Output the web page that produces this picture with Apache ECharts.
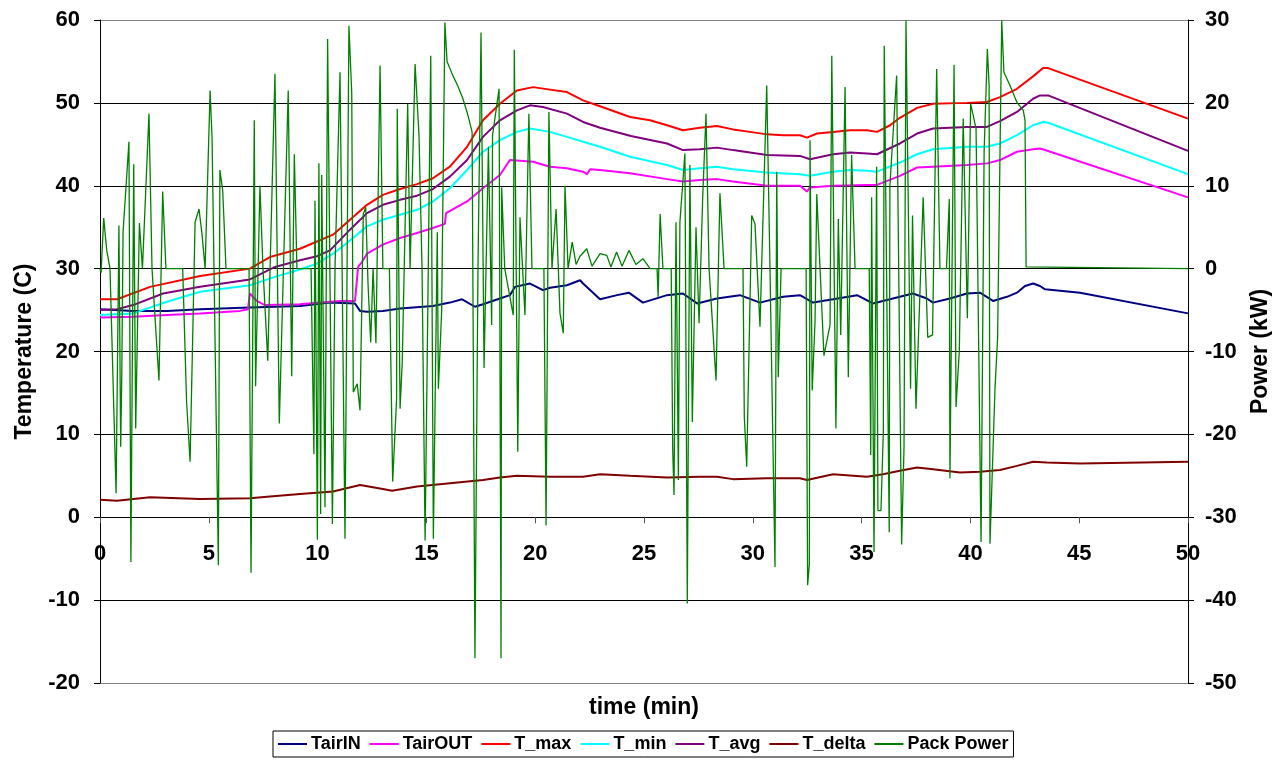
<!DOCTYPE html>
<html>
<head>
<meta charset="utf-8">
<script src="https://cdn.jsdelivr.net/npm/echarts@6/dist/echarts.min.js"></script>
<style>
html,body{margin:0;padding:0;background:#fff;}
#chart{width:1274px;height:762px;}
</style>
</head>
<body>
<div id="chart"></div>
<script>
// ---- data (time in min, value) ----
const tairIN = [[0,25.1],[1.52,24.9],[3.08,24.9],[4.6,25.1],[6.89,25.3],[9.19,25.5],[10.57,25.9],[11.72,25.8],[11.95,24.9],[12.27,24.8],[13.0,24.9],[13.79,25.2],[15.3,25.5],[16.08,25.9],[16.64,26.3],[17.23,25.4],[17.6,25.7],[18.38,26.4],[18.84,26.8],[19.07,27.8],[19.76,28.2],[20.36,27.4],[20.68,27.7],[21.46,28.0],[22.06,28.6],[22.2,28.2],[22.98,26.3],[23.76,26.8],[24.3,27.1],[24.95,25.9],[26.06,26.8],[26.79,27.0],[27.44,25.8],[28.35,26.4],[29.41,26.8],[30.33,25.9],[31.39,26.6],[32.17,26.8],[32.77,25.9],[33.69,26.3],[34.79,26.8],[35.52,25.8],[36.76,26.6],[37.36,27.0],[38.0,26.4],[38.28,25.9],[39.06,26.4],[39.84,27.0],[40.44,27.1],[41.04,26.1],[41.68,26.6],[42.14,27.1],[42.51,27.9],[42.88,28.2],[43.2,27.9],[43.43,27.5],[45.04,27.1],[50,24.6]];
const tairOUT = [[0,24.1],[1.52,24.2],[3.08,24.4],[4.6,24.6],[6.43,24.9],[6.8,25.1],[6.89,27.0],[7.2,26.1],[7.58,25.6],[9.19,25.7],[10.11,25.9],[11.03,26.1],[11.72,26.1],[11.86,30.2],[12.04,30.8],[12.27,31.8],[13.0,32.9],[13.79,33.7],[14.57,34.3],[15.3,34.9],[15.85,35.4],[15.9,36.7],[16.87,38.1],[17.6,39.7],[18.38,41.3],[18.84,43.1],[19.9,42.9],[20.68,42.3],[21.46,42.1],[22.2,41.7],[22.38,41.4],[22.52,42.0],[22.98,41.9],[24.36,41.5],[26.06,40.8],[26.79,40.5],[27.57,40.7],[28.35,40.8],[29.09,40.5],[30.65,40.0],[32.17,40.0],[32.49,39.3],[32.63,39.8],[33.69,40.0],[35.25,40.1],[35.71,40.1],[36.76,41.2],[37.55,42.2],[38.28,42.3],[39.84,42.5],[40.76,42.7],[41.36,43.1],[42.14,44.1],[42.88,44.4],[43.2,44.5],[43.57,44.2],[50,38.6]];
const tMax = [[0,26.3],[0.78,26.3],[2.3,27.8],[4.6,29.1],[6.89,30.0],[7.81,31.4],[9.19,32.4],[10.71,34.1],[11.49,35.9],[12.27,37.7],[13.0,38.9],[13.79,39.6],[14.57,40.2],[15.3,40.9],[16.08,42.3],[16.87,44.7],[17.6,47.9],[18.38,49.9],[19.16,51.5],[19.9,51.9],[20.68,51.6],[21.46,51.3],[22.2,50.3],[22.98,49.6],[24.36,48.3],[25.28,47.9],[26.06,47.3],[26.79,46.7],[27.57,47.0],[28.35,47.2],[29.09,46.8],[29.87,46.5],[30.65,46.2],[31.39,46.1],[32.17,46.1],[32.49,45.8],[32.95,46.3],[33.69,46.5],[34.47,46.7],[35.25,46.7],[35.71,46.5],[36.31,47.3],[36.76,48.2],[37.55,49.4],[38.28,49.9],[39.84,50.0],[40.76,50.1],[41.36,50.7],[42.14,51.7],[42.88,53.2],[43.34,54.2],[43.57,54.2],[50,48.1]];
const tMin = [[0,24.4],[1.52,24.6],[3.08,26.0],[4.6,27.2],[6.89,28.0],[8.04,29.0],[9.19,29.9],[9.97,30.6],[10.71,31.8],[11.49,33.4],[12.27,35.1],[13.0,35.9],[13.79,36.5],[14.57,37.1],[15.3,38.1],[16.08,39.7],[16.87,41.9],[17.6,44.1],[18.38,45.5],[19.16,46.5],[19.76,46.9],[20.68,46.5],[21.46,45.9],[22.2,45.3],[22.98,44.7],[24.36,43.5],[26.06,42.5],[26.79,41.9],[27.57,42.1],[28.35,42.3],[29.09,42.0],[30.65,41.6],[32.17,41.4],[32.63,41.2],[33.69,41.7],[34.47,41.9],[35.25,41.8],[35.71,41.7],[36.76,42.8],[37.55,43.8],[38.28,44.4],[39.84,44.7],[40.76,44.7],[41.36,45.1],[42.14,46.1],[42.88,47.3],[43.34,47.7],[43.57,47.6],[50,41.4]];
const tAvg = [[0,25.0],[0.78,25.1],[1.52,25.6],[2.9,27.0],[4.6,27.8],[6.89,28.7],[8.04,30.2],[9.19,31.0],[9.97,31.5],[10.57,32.2],[11.49,34.7],[12.27,36.7],[13.0,37.7],[13.79,38.3],[14.57,38.8],[15.3,39.6],[16.08,41.1],[16.87,43.1],[17.6,45.9],[18.38,47.9],[19.16,49.1],[19.76,49.7],[20.36,49.5],[21.46,48.7],[22.2,47.7],[22.98,47.0],[24.4,46.0],[26.06,45.1],[26.79,44.3],[27.57,44.4],[28.35,44.6],[29.09,44.3],[30.65,43.7],[32.17,43.6],[32.63,43.2],[33.69,43.8],[34.47,44.0],[35.25,43.9],[35.71,43.8],[36.76,45.1],[37.55,46.3],[38.28,46.9],[39.84,47.1],[40.76,47.1],[41.36,47.8],[42.14,48.9],[42.88,50.5],[43.2,50.9],[43.57,50.9],[50,44.2]];
const tDelta = [[0,2.1],[0.78,2.0],[2.3,2.4],[4.6,2.2],[6.89,2.3],[7.81,2.5],[9.19,2.8],[10.71,3.1],[11.95,3.9],[13.0,3.4],[13.42,3.2],[14.57,3.7],[16.08,4.1],[17.6,4.5],[18.38,4.8],[19.16,5.0],[20.68,4.9],[22.2,4.9],[22.98,5.2],[24.36,5.0],[26.06,4.8],[27.57,4.9],[28.35,4.9],[29.09,4.6],[30.65,4.7],[32.17,4.7],[32.49,4.5],[33.69,5.2],[35.25,4.9],[35.98,5.2],[36.76,5.6],[37.55,6.0],[38.28,5.8],[39.52,5.4],[40.44,5.5],[41.36,5.7],[42.14,6.2],[42.88,6.7],[43.52,6.6],[45.04,6.5],[50,6.7]];
const packPower = [[0,0],[0.05,-0.5],[0.17,6.1],[0.31,2.2],[0.46,0],[0.74,-27.1],[0.87,5.2],[0.95,-21.5],[1.0,-13.1],[1.06,4.4],[1.15,4.4],[1.33,15.3],[1.42,-35.4],[1.55,12.6],[1.64,-19.3],[1.81,5.5],[1.95,0],[2.11,9.9],[2.25,18.7],[2.39,0],[2.71,-13.5],[2.88,9.3],[3.03,0],[3.8,0],[3.98,-16.1],[4.14,-23.3],[4.37,5.6],[4.55,7.2],[4.69,4.1],[4.83,0],[5.06,21.5],[5.15,15.7],[5.44,-35.8],[5.51,11.9],[5.64,9.4],[5.79,0],[6.85,0],[6.94,-36.7],[7.09,17.9],[7.15,-14.2],[7.35,10],[7.49,0],[7.71,-11.1],[8.04,23.5],[8.24,-18.7],[8.65,21.5],[8.81,-13],[8.93,13.8],[9.05,0],[9.7,0],[9.83,-22.4],[9.88,8.2],[9.99,-32.7],[10.06,12.7],[10.14,-29.6],[10.19,11.3],[10.34,-28.8],[10.46,27.7],[10.68,-30.8],[10.8,0],[11.03,23.7],[11.26,-32.6],[11.44,29.3],[11.57,21.1],[11.64,-14.9],[11.82,-13.9],[11.95,-17.1],[12.1,6.6],[12.21,7.4],[12.32,-2],[12.44,-8.9],[12.55,0],[12.68,-9],[12.87,24.5],[13.0,0],[13.3,0],[13.45,-25.7],[13.63,-15.7],[13.66,19.3],[13.79,-16.9],[13.89,-11.3],[14.14,19.9],[14.25,0],[14.48,24.7],[14.66,16.1],[14.8,0],[14.94,-32.8],[15.2,25.7],[15.32,-32.6],[15.5,4.4],[15.55,-14.5],[15.7,-5.2],[15.85,29.7],[15.95,25],[16.18,23.5],[16.45,22],[16.68,20.5],[16.91,18.5],[17.1,16.5],[17.23,-47],[17.37,0],[17.51,28.5],[17.65,-12],[17.85,14.7],[18.0,-6.8],[18.04,16.1],[18.34,21.7],[18.43,-47],[18.46,9.8],[18.6,0],[18.99,-5.6],[19.04,26.4],[19.2,-22.1],[19.3,6.2],[19.53,-5.6],[19.71,18.7],[19.85,0],[20.4,0],[20.5,-31],[20.63,18.9],[20.77,0],[20.96,7.2],[21.14,-5.4],[21.29,-7.8],[21.37,10],[21.51,0],[21.7,3.2],[21.88,0.5],[22.06,1.5],[22.37,2.4],[22.61,0.3],[22.98,1.8],[23.29,1.6],[23.48,0.2],[23.74,2.0],[23.99,0.3],[24.31,2.2],[24.63,0.5],[24.95,1.2],[25.28,0],[25.6,0],[25.65,-3.4],[25.74,6.6],[25.87,0],[26.25,0],[26.32,-21.9],[26.38,-27.3],[26.47,5.6],[26.58,-25.5],[26.65,5.6],[26.88,13.9],[26.99,-40.4],[27.11,12.5],[27.22,-18.5],[27.39,5],[27.53,-6.6],[27.7,8.8],[27.85,18.7],[27.99,0],[28.31,-13.5],[28.49,9.1],[28.68,0],[29.55,0],[29.61,-17.9],[29.72,-23.9],[29.95,6.4],[30.1,5.4],[30.33,-7],[30.64,22.1],[30.79,0],[31.02,-36],[31.1,11.7],[31.17,-13.1],[31.3,0],[32.45,0],[32.52,-38.2],[32.6,-35.6],[32.63,15.5],[32.73,-14.7],[32.86,-6.4],[32.94,9],[33.09,0],[33.27,-10.5],[33.55,-6.8],[33.63,25.7],[33.82,-19.3],[33.93,6],[34.04,-8],[34.24,21.9],[34.39,-13.1],[34.54,13.7],[34.7,0],[35.35,0],[35.42,-22.5],[35.46,8.6],[35.57,-34.2],[35.69,12.3],[35.75,-29.2],[35.89,-29.2],[36.0,-19.5],[36.04,26.9],[36.27,-31.8],[36.3,10],[36.61,23.3],[36.84,-33.3],[36.95,-21.5],[37.04,29.9],[37.25,-14.5],[37.34,6.4],[37.5,-16.9],[37.83,8.6],[38.04,-8.3],[38.26,-8],[38.45,24.1],[38.6,0],[38.9,0],[39.03,8.4],[39.06,-25.3],[39.25,24.6],[39.34,-16.7],[39.49,-9.9],[39.67,18.1],[39.86,-6],[40.01,19.9],[40.26,16.9],[40.49,-33],[40.63,14.1],[40.78,26.5],[40.86,22.1],[40.9,-33.2],[41.13,-14.5],[41.25,-8.4],[41.44,29.9],[41.54,23.7],[41.82,22.1],[42.13,20.1],[42.43,19.1],[42.51,17.9],[42.56,0.2],[50,0]];

const seriesNames = ['TairIN','TairOUT','T_max','T_min','T_avg','T_delta','Pack Power'];
const seriesColors = ['#000080','#FF00FF','#FF0000','#00FFFF','#800080','#800000','#008000'];
const seriesData = [tairIN, tairOUT, tMax, tMin, tAvg, tDelta, packPower];

const FONT = '"Liberation Sans", Arial, sans-serif';
const chart = echarts.init(document.getElementById('chart'), null, {renderer:'canvas'});

// grid geometry: temperature 0 lies 60/80 of the way down the plot
const gridTop = 20, gridBottom = 79, chartH = 762;
const plotH = chartH - gridTop - gridBottom;
const xAxisOffset = -plotH * (20 / 80);

const series = seriesNames.map((name, i) => ({
  name: name,
  type: 'line',
  yAxisIndex: i === 6 ? 1 : 0,
  data: seriesData[i],
  symbol: 'none',
  showSymbol: false,
  smooth: false,
  animation: false,
  lineStyle: {color: seriesColors[i], width: i === 6 ? 1.3 : 2},
  itemStyle: {color: seriesColors[i]}
}));

chart.setOption({
  backgroundColor: '#fff',
  animation: false,
  grid: {left: 100, right: 86, top: gridTop, bottom: gridBottom, containLabel: false, outerBoundsMode: 'none'},
  legend: {
    data: seriesNames,
    bottom: 5,
    left: 273,
    borderColor: '#000',
    borderWidth: 1,
    padding: [4, 5],
    itemGap: 9,
    itemWidth: 29,
    itemHeight: 2,
    icon: 'rect',
    textStyle: {fontFamily: FONT, fontWeight: 'bold', fontSize: 18, color: '#000', padding: [0, 0, 0, -1]}
  },
  xAxis: {
    type: 'value', position: 'bottom', min: 0, max: 50, interval: 5,
    offset: xAxisOffset,
    name: 'time (min)', nameLocation: 'middle', nameGap: 179,
    nameTextStyle: {fontFamily: FONT, fontWeight: 'bold', fontSize: 23, color: '#000'},
    axisLine: {show: true, onZero: false, lineStyle: {color: '#000', width: 1}},
    axisTick: {show: true, length: 6, lineStyle: {color: '#555'}},
    axisLabel: {margin: 26, fontFamily: FONT, fontWeight: 'bold', fontSize: 22, color: '#000'},
    splitLine: {show: false}
  },
  yAxis: [{
    type: 'value', position: 'left', min: -20, max: 60, interval: 10,
    name: 'Temperature (C)', nameLocation: 'middle', nameGap: 64, nameRotate: 90,
    nameTextStyle: {fontFamily: FONT, fontWeight: 'bold', fontSize: 23, color: '#000'},
    axisLine: {show: true, onZero: false, lineStyle: {color: '#000', width: 1}},
    axisTick: {show: true, length: 6, lineStyle: {color: '#000'}},
    axisLabel: {margin: 20, fontFamily: FONT, fontWeight: 'bold', fontSize: 22, color: '#000'},
    splitLine: {show: true, lineStyle: {color: ['#808080','#000','#000','#000','#000','#000','#000','#000','#808080'], width: 1}}
  }, {
    type: 'value', position: 'right', min: -50, max: 30, interval: 10,
    name: 'Power (kW)', nameLocation: 'middle', nameGap: 61, nameRotate: 90,
    nameTextStyle: {fontFamily: FONT, fontWeight: 'bold', fontSize: 23, color: '#000'},
    axisLine: {show: true, onZero: false, lineStyle: {color: '#000', width: 1}},
    axisTick: {show: true, length: 6, lineStyle: {color: '#000'}},
    axisLabel: {margin: 17, fontFamily: FONT, fontWeight: 'bold', fontSize: 22, color: '#000'},
    splitLine: {show: false}
  }],
  series: series
});
</script>
</body>
</html>
